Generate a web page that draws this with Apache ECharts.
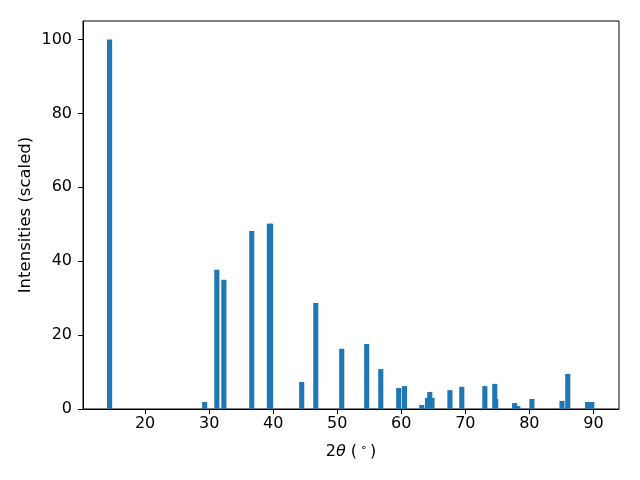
<!DOCTYPE html>
<html>
<head>
<meta charset="utf-8">
<script src="https://cdn.jsdelivr.net/npm/echarts@6/dist/echarts.min.js"></script>
<style>html,body{margin:0;padding:0;background:#fff;}#c{width:640px;height:480px;}</style>
</head>
<body>
<div id="c"></div>
<script>
// peak positions (2θ, degrees) and scaled intensities
const twoTheta = [14.45, 29.3, 31.2, 32.3, 36.65, 39.4, 39.6, 44.45, 46.65, 50.7, 54.6, 56.8, 59.6, 60.5, 63.2, 64.1, 64.45, 64.8, 67.6, 69.45, 73.05, 74.6, 74.75, 77.7, 78.2, 80.4, 85.1, 86.0, 89.1, 89.75];
const intensity = [100, 1.9, 37.7, 35.0, 48.2, 50.1, 50.1, 7.3, 28.7, 16.3, 17.6, 10.8, 5.7, 6.2, 1.1, 3.0, 4.6, 3.0, 5.1, 6.0, 6.2, 6.8, 2.7, 1.6, 0.8, 2.7, 2.2, 9.5, 1.9, 1.9];
const barWidth = 0.8;
const yTicks = [0, 20, 40, 60, 80, 100];
const xTicks = [20, 30, 40, 50, 60, 70, 80, 90];

const data = twoTheta.map((x, i) => [x, intensity[i]]);
const chart = echarts.init(document.getElementById('c'), null, {renderer: 'canvas'});
const font = 'DejaVu Sans';
chart.setOption({
  animation: false,
  backgroundColor: '#fff',
  grid: {left: 83, right: 21, top: 21, bottom: 71, show: true, borderColor: '#000', borderWidth: 1, backgroundColor: 'transparent'},
  xAxis: {
    type: 'value', min: 10.3, max: 94.0, interval: 10,
    name: '{n|2}{i|θ}{n| (}{s|∘}{n|)}', nameLocation: 'middle', nameGap: 34, nameMoveOverlap: false,
    nameTextStyle: {rich: {
      n: {fontFamily: font, fontSize: 16, color: '#000'},
      i: {fontFamily: font, fontSize: 16, fontStyle: 'italic', color: '#000'},
      s: {fontFamily: font, fontSize: 11, color: '#000', verticalAlign: 'top', padding: [0, 3, 7, 3]}
    }},
    axisLine: {show: true, onZero: false, lineStyle: {color: '#000', width: 1}},
    axisTick: {show: true, length: 5, lineStyle: {color: '#000'}, customValues: xTicks},
    axisLabel: {fontFamily: font, fontSize: 16, color: '#000', margin: 7, customValues: xTicks},
    splitLine: {show: false}
  },
  yAxis: {
    type: 'value', min: 0, max: 105, interval: 20,
    name: 'Intensities (scaled)', nameLocation: 'middle', nameGap: 49, nameMoveOverlap: false,
    nameTextStyle: {fontFamily: font, fontSize: 16.5, color: '#000'},
    axisLine: {show: true, lineStyle: {color: '#000', width: 1}},
    axisTick: {show: true, length: 5, lineStyle: {color: '#000'}, customValues: yTicks},
    axisLabel: {fontFamily: font, fontSize: 16, color: '#000', margin: 11, customValues: yTicks},
    splitLine: {show: false}
  },
  series: [{
    type: 'custom',
    data: data,
    encode: {x: 0, y: 1},
    renderItem: function (params, api) {
      const x = api.value(0), y = api.value(1);
      const p0 = api.coord([x - barWidth / 2, y]);
      const p1 = api.coord([x + barWidth / 2, 0]);
      return {
        type: 'rect',
        shape: {x: p0[0], y: p0[1], width: p1[0] - p0[0], height: p1[1] - p0[1]},
        style: {fill: '#1f77b4'}
      };
    }
  }]
});
</script>
</body>
</html>
